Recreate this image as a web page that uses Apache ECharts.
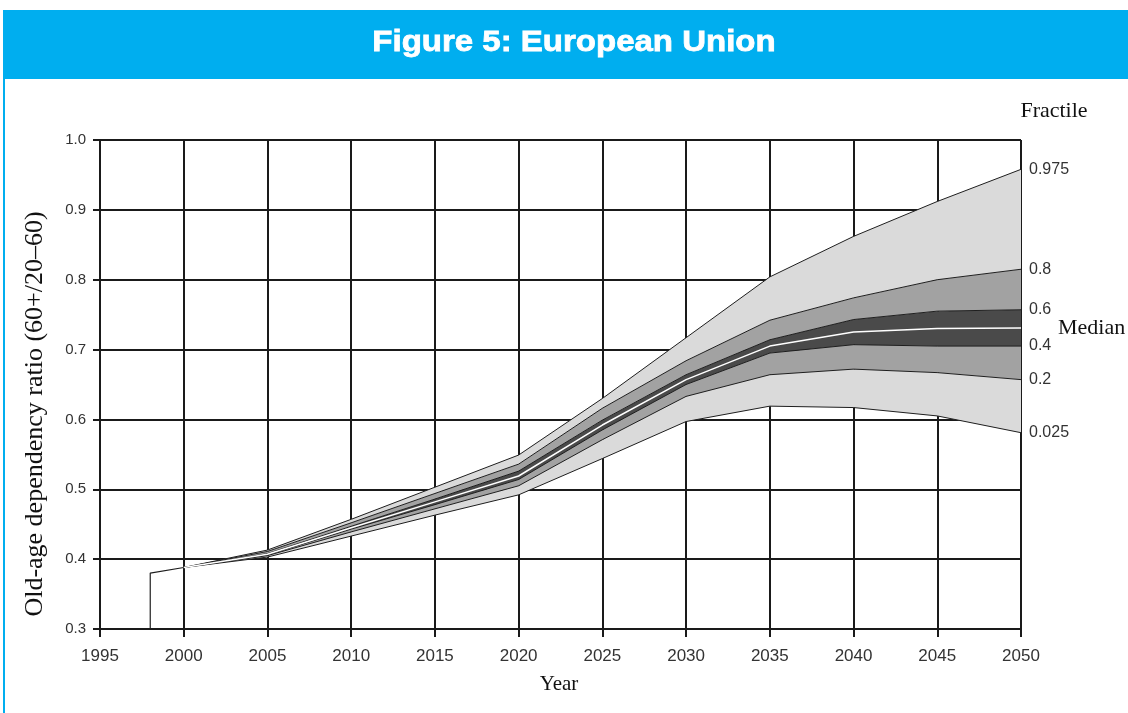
<!DOCTYPE html>
<html>
<head>
<meta charset="utf-8">
<script src="https://cdn.jsdelivr.net/npm/echarts@6/dist/echarts.min.js"></script>
<style>
  html, body { margin: 0; padding: 0; background: #ffffff; }
  #chart { width: 1128px; height: 713px; }
</style>
</head>
<body>
<div id="chart"></div>
<script>
// Projection years (fan starts at 2000)
const years = [2000, 2005, 2010, 2015, 2020, 2025, 2030, 2035, 2040, 2045, 2050];

// Observed ratio before the projection
const historyYears = [1998, 1998, 2000];
const historyValues = [0.30, 0.380, 0.388];

// Fractiles of the projected old-age dependency ratio
const p025 = [0.388, 0.403, 0.433, 0.463, 0.492, 0.544, 0.597, 0.619, 0.617, 0.605, 0.581];
const p20  = [0.388, 0.405, 0.439, 0.472, 0.505, 0.571, 0.633, 0.664, 0.672, 0.667, 0.657];
const p40  = [0.388, 0.406, 0.443, 0.478, 0.514, 0.585, 0.650, 0.695, 0.707, 0.705, 0.705];
const median = [0.388, 0.407, 0.445, 0.482, 0.519, 0.592, 0.657, 0.705, 0.725, 0.730, 0.731];
const p60  = [0.388, 0.408, 0.447, 0.486, 0.526, 0.599, 0.664, 0.714, 0.743, 0.755, 0.757];
const p80  = [0.388, 0.411, 0.452, 0.494, 0.536, 0.616, 0.684, 0.742, 0.774, 0.800, 0.815];
const p975 = [0.388, 0.413, 0.457, 0.503, 0.549, 0.630, 0.717, 0.804, 0.862, 0.912, 0.958];

// Right-hand fractile labels
const fractileLabels = ['0.025', '0.2', '0.4', '0.6', '0.8', '0.975'];

const xTicks = { min: 1995, max: 2050, step: 5 };
const yTicks = { min: 0.3, max: 1.0, step: 0.1 };

const LIGHT = '#dadada';
const MID = '#a2a2a2';
const DARK = '#4a4a4a';
const EDGE = '#1e1e1e';
const GRID = '#1a1a1a';

const fractiles = [p025, p20, p40, p60, p80, p975];
// Shaded bands between consecutive fractiles
const bands = [
  { lower: p025, upper: p20, color: LIGHT },
  { lower: p20, upper: p40, color: MID },
  { lower: p40, upper: p60, color: DARK },
  { lower: p60, upper: p80, color: MID },
  { lower: p80, upper: p975, color: LIGHT }
];

const sans = '"Liberation Sans", Arial, sans-serif';
const serif = '"Liberation Serif", "Times New Roman", serif';

// One polygon per band, traced through the axis scales
const bandSeries = bands.map((b, k) => ({
  name: 'band' + k,
  type: 'custom',
  z: 2,
  silent: true,
  data: years.map((y, i) => [y, b.lower[i], b.upper[i]]),
  encode: { x: 0, y: [1, 2] },
  renderItem: (params, api) => {
    if (params.dataIndex !== 0) return null;
    const pts = [];
    for (let i = 0; i < years.length; i++) pts.push(api.coord([years[i], b.upper[i]]));
    for (let i = years.length - 1; i >= 0; i--) pts.push(api.coord([years[i], b.lower[i]]));
    return { type: 'polygon', shape: { points: pts }, style: { fill: b.color, stroke: null } };
  }
}));

// Edge line of each fractile, labelled at its right end
const edgeSeries = fractiles.map((arr, k) => ({
  name: fractileLabels[k],
  type: 'line',
  symbol: 'none',
  z: 3,
  silent: true,
  data: years.map((y, i) => [y, arr[i]]),
  lineStyle: { color: EDGE, width: 1 },
  endLabel: {
    show: true,
    formatter: fractileLabels[k],
    distance: 8,
    fontFamily: sans,
    fontSize: 16,
    color: '#333'
  },
  emphasis: { disabled: true }
}));

const chart = echarts.init(document.getElementById('chart'), null, { renderer: 'canvas' });

chart.setOption({
  animation: false,
  backgroundColor: '#ffffff',
  grid: { left: 100, right: 107, top: 140, bottom: 84 },
  xAxis: {
    type: 'value',
    min: xTicks.min,
    max: xTicks.max,
    interval: xTicks.step,
    axisLine: { show: true, lineStyle: { color: GRID, width: 2 } },
    axisTick: { show: true, length: 8, lineStyle: { color: GRID, width: 2 } },
    axisLabel: { margin: 19, formatter: v => String(v), fontFamily: sans, fontSize: 17, color: '#333' },
    splitLine: { show: true, lineStyle: { color: GRID, width: 2 } }
  },
  yAxis: {
    type: 'value',
    min: yTicks.min,
    max: yTicks.max,
    interval: yTicks.step,
    axisLine: { show: true, lineStyle: { color: GRID, width: 2 } },
    axisTick: { show: true, length: 7, lineStyle: { color: GRID, width: 2 } },
    axisLabel: { margin: 14, formatter: v => v.toFixed(1), fontFamily: sans, fontSize: 15, color: '#333' },
    splitLine: { show: true, lineStyle: { color: GRID, width: 2 } }
  },
  series: [
    {
      name: 'history',
      type: 'line',
      symbol: 'none',
      z: 3,
      data: historyYears.map((y, i) => [y, historyValues[i]]),
      lineStyle: { color: EDGE, width: 1.2 },
      silent: true
    },
    ...bandSeries,
    ...edgeSeries,
    {
      name: 'Median',
      type: 'line',
      symbol: 'none',
      z: 4,
      data: years.map((y, i) => [y, median[i]]),
      lineStyle: { color: '#ffffff', width: 1.5 },
      endLabel: {
        show: true,
        formatter: 'Median',
        distance: 37,
        fontFamily: serif,
        fontSize: 22,
        color: '#111'
      },
      silent: true
    }
  ],
  graphic: [
    { type: 'rect', left: 3, top: 10, shape: { width: 1125, height: 69 }, style: { fill: '#00aeef' }, z: 10 },
    { type: 'rect', left: 3, top: 79, shape: { width: 2, height: 634 }, style: { fill: '#00aeef' }, z: 10 },
    {
      type: 'text', x: 574, y: 43, z: 11, scaleX: 1.1,
      style: {
        text: 'Figure 5: European Union', fill: '#ffffff', stroke: '#ffffff', lineWidth: 0.8,
        font: 'bold 30px "Liberation Sans", Arial, sans-serif', align: 'center', verticalAlign: 'middle'
      }
    },
    {
      type: 'text', x: 1054, y: 111, z: 11,
      style: { text: 'Fractile', fill: '#111', font: '22px ' + serif, align: 'center', verticalAlign: 'middle' }
    },
    {
      type: 'text', x: 559, y: 684, z: 11,
      style: { text: 'Year', fill: '#111', font: '21px ' + serif, align: 'center', verticalAlign: 'middle' }
    },
    {
      type: 'text', x: 35, y: 414, rotation: Math.PI / 2, z: 11,
      style: { text: 'Old-age dependency ratio (60+/20–60)', fill: '#111', font: '26px ' + serif, align: 'center', verticalAlign: 'middle' }
    }
  ]
});
</script>
</body>
</html>
